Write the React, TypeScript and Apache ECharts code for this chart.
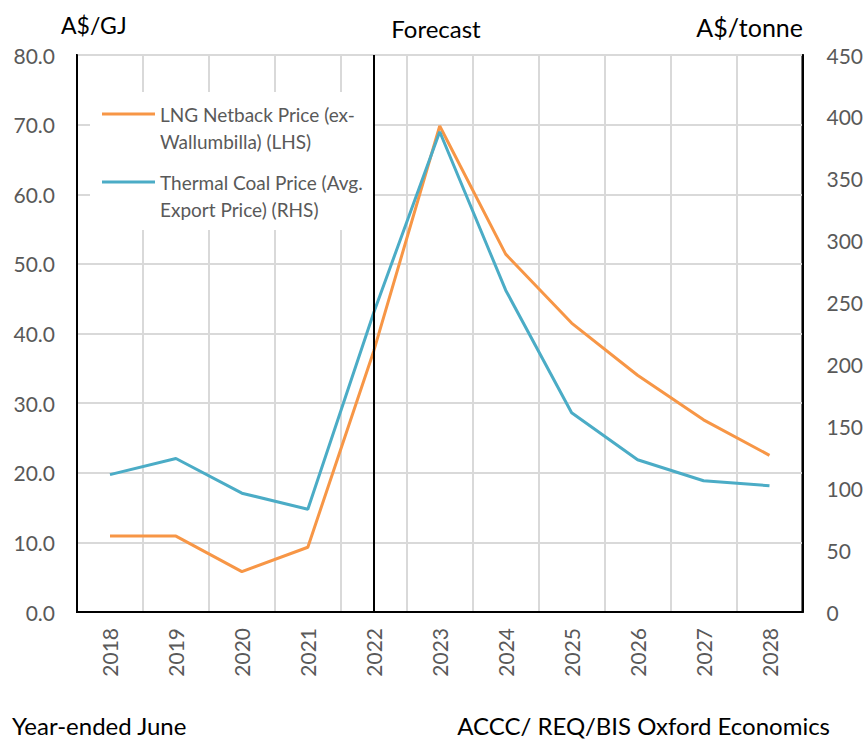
import React, { useEffect, useRef } from "react";
import * as echarts from "echarts";

// Financial years (year ended June)
const years = ["2018", "2019", "2020", "2021", "2022", "2023", "2024", "2025", "2026", "2027", "2028"];
// LNG netback price, A$/GJ (left axis)
const lngNetback = [10.9, 10.9, 5.8, 9.3, 37.5, 69.8, 51.4, 41.5, 34.0, 27.6, 22.5];
// Thermal coal average export price, A$/tonne (right axis)
const coalPrice = [111, 124, 96, 83, 242, 388, 260, 161, 123, 106, 102];
const forecastStart = "2022";

const seriesNames = [
  "LNG Netback Price (ex-\nWallumbilla) (LHS)",
  "Thermal Coal Price (Avg.\nExport Price) (RHS)",
];

const ORANGE = "#F79646";
const BLUE = "#4BACC6";
const GREY_TEXT = "#595959";
const FONT = "Lato, 'Open Sans', sans-serif";

export default function App() {
  const ref = useRef<HTMLDivElement>(null);

  useEffect(() => {
    if (!ref.current) return;
    const chart = echarts.init(ref.current, undefined, { renderer: "svg" });

    chart.setOption({
      animation: false,
      backgroundColor: "#fff",
      textStyle: { fontFamily: FONT },
      grid: {
        left: 77,
        right: 60,
        top: 55,
        bottom: 128,
        show: true,
        borderColor: "#000",
        borderWidth: 2,
        backgroundColor: "transparent",
      },
      xAxis: {
        type: "category",
        data: years,
        boundaryGap: true,
        axisLine: { show: true, lineStyle: { color: "#000", width: 2 } },
        axisTick: { show: false },
        axisLabel: {
          rotate: 90,
          margin: 16,
          color: GREY_TEXT,
          fontSize: 21,
          fontFamily: FONT,
          interval: 0,
        },
        splitLine: { show: true, interval: 0, lineStyle: { color: "#D9D9D9", width: 2 } },
      },
      yAxis: [
        {
          type: "value",
          min: 0,
          max: 80,
          interval: 10,
          position: "left",
          axisLine: { show: true, lineStyle: { color: "#000", width: 2 } },
          axisTick: { show: false },
          axisLabel: {
            margin: 22,
            color: GREY_TEXT,
            fontSize: 21,
            fontFamily: FONT,
            formatter: (v: number) => v.toFixed(1),
          },
          splitLine: { show: true, lineStyle: { color: "#D9D9D9", width: 2 } },
        },
        {
          type: "value",
          min: 0,
          max: 450,
          interval: 50,
          position: "right",
          axisLine: { show: true, lineStyle: { color: "#000", width: 2 } },
          axisTick: { show: false },
          axisLabel: {
            margin: 24,
            color: GREY_TEXT,
            fontSize: 21,
            fontFamily: FONT,
          },
          splitLine: { show: false },
        },
      ],
      series: [
        {
          name: seriesNames[0],
          type: "line",
          yAxisIndex: 0,
          data: lngNetback,
          symbol: "none",
          lineStyle: { color: ORANGE, width: 3 },
          itemStyle: { color: ORANGE },
          z: 3,
          markLine: {
            silent: true,
            symbol: ["none", "none"],
            label: { show: false },
            lineStyle: { color: "#000", width: 2, type: "solid" },
            data: [{ xAxis: forecastStart }],
          },
        },
        {
          name: seriesNames[1],
          type: "line",
          yAxisIndex: 1,
          data: coalPrice,
          symbol: "none",
          lineStyle: { color: BLUE, width: 3 },
          itemStyle: { color: BLUE },
          z: 4,
        },
      ],
      graphic: [
        // legend panel
        {
          type: "rect",
          z: 1,
          shape: { x: 90, y: 92, width: 283, height: 138 },
          style: { fill: "#fff" },
          silent: true,
        },
        {
          type: "line",
          z: 2,
          shape: { x1: 102, y1: 114, x2: 155, y2: 114 },
          style: { stroke: ORANGE, lineWidth: 3 },
        },
        {
          type: "text",
          z: 2,
          x: 160,
          y: 100.5,
          style: {
            text: seriesNames[0],
            fill: GREY_TEXT,
            font: `19px ${FONT}`,
            lineHeight: 27,
            verticalAlign: "top",
          },
        },
        {
          type: "line",
          z: 2,
          shape: { x1: 102, y1: 182, x2: 155, y2: 182 },
          style: { stroke: BLUE, lineWidth: 3 },
        },
        {
          type: "text",
          z: 2,
          x: 160,
          y: 168.5,
          style: {
            text: seriesNames[1],
            fill: GREY_TEXT,
            font: `19px ${FONT}`,
            lineHeight: 27,
            verticalAlign: "top",
          },
        },
        // axis titles
        {
          type: "text",
          x: 61,
          y: 25,
          style: { text: "A$/GJ", fill: "#000", font: `23px ${FONT}`, verticalAlign: "middle", align: "left" },
        },
        {
          type: "text",
          x: 436,
          y: 28,
          style: { text: "Forecast", fill: "#000", font: `24px ${FONT}`, verticalAlign: "middle", align: "center" },
        },
        {
          type: "text",
          x: 803,
          y: 27,
          style: { text: "A$/tonne", fill: "#000", font: `25px ${FONT}`, verticalAlign: "middle", align: "right" },
        },
        // footer notes
        {
          type: "text",
          x: 12,
          y: 725,
          style: {
            text: "Year-ended June",
            fill: "#000",
            font: `24px ${FONT}`,
            lineHeight: 24,
            verticalAlign: "middle",
            align: "left",
          },
        },
        {
          type: "text",
          x: 830,
          y: 725,
          style: {
            text: "ACCC/ REQ/BIS Oxford Economics",
            fill: "#000",
            font: `24px ${FONT}`,
            lineHeight: 24,
            verticalAlign: "middle",
            align: "right",
          },
        },
      ],
    });

    return () => chart.dispose();
  }, []);

  return (
    <div
      ref={ref}
      style={{ position: "fixed", left: 0, top: 0, width: 866, height: 740, background: "#fff" }}
    />
  );
}
